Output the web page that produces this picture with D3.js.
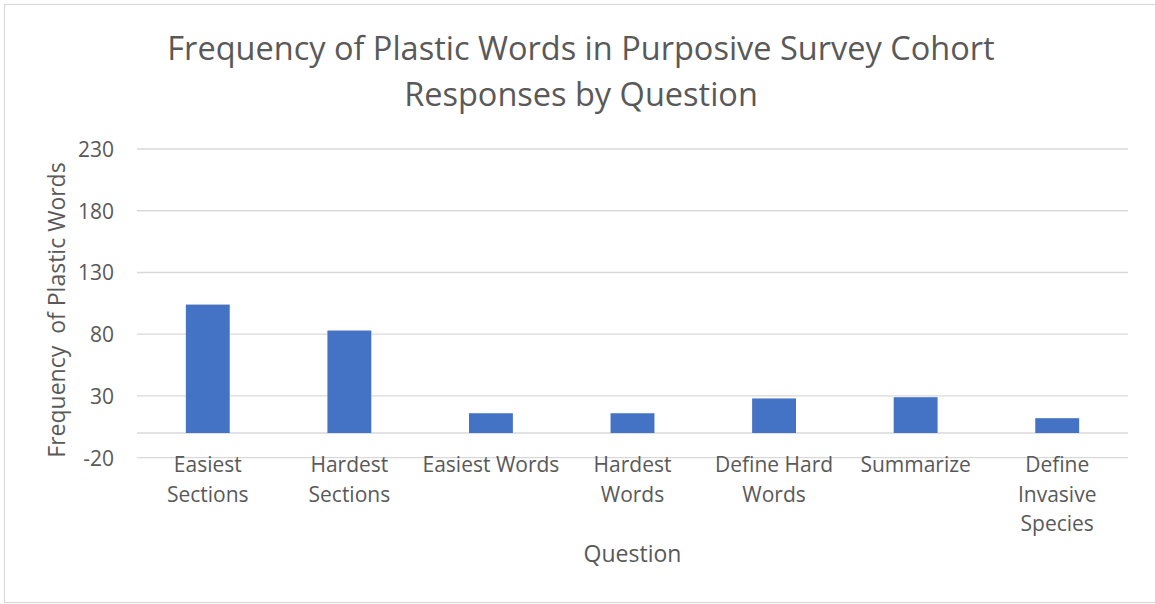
<!DOCTYPE html>
<html>
<head>
<meta charset="utf-8">
<script src="https://cdn.jsdelivr.net/npm/d3@7/dist/d3.min.js"></script>
<style>
  html, body { margin: 0; padding: 0; background: #fff; }
  svg { display: block; }
  text { font-family: "Open Sans", "Noto Sans", sans-serif; fill: #595959; }
</style>
</head>
<body>
<svg id="chart" width="1155" height="604"></svg>
<script>
// Questions asked of the cohort and the wrapped form of each label
const categories = ["Easiest Sections", "Hardest Sections", "Easiest Words", "Hardest Words",
                    "Define Hard Words", "Summarize", "Define Invasive Species"];
const categoryLines = [["Easiest", "Sections"], ["Hardest", "Sections"], ["Easiest Words"],
                       ["Hardest", "Words"], ["Define Hard", "Words"], ["Summarize"],
                       ["Define", "Invasive", "Species"]];
// Count of plastic words per question
const frequencies = [104, 83, 16, 16, 28, 29, 12];
// Value axis ticks
const yTicks = [-20, 30, 80, 130, 180, 230];

const titleLines = ["Frequency of Plastic Words in Purposive Survey Cohort", "Responses by Question"];
const yTitle = "Frequency\u00a0 of Plastic Words";
const xTitle = "Question";

const svg = d3.select("#chart");

// outer chart frame
svg.append("rect")
  .attr("x", 4.5).attr("y", 4.5)
  .attr("width", 1160).attr("height", 598)
  .attr("fill", "#fff").attr("stroke", "#d9d9d9").attr("stroke-width", 1.2);

const plot = { left: 137, right: 1128, top: 149, bottom: 457.7 };

const x = d3.scaleBand().domain(categories).range([plot.left, plot.right]).padding(0);
const y = d3.scaleLinear().domain([yTicks[0], yTicks[yTicks.length - 1]]).range([plot.bottom, plot.top]);

// horizontal gridlines
svg.append("g").selectAll("line").data(yTicks).join("line")
  .attr("x1", plot.left).attr("x2", plot.right)
  .attr("y1", d => y(d)).attr("y2", d => y(d))
  .attr("stroke", "#d9d9d9").attr("stroke-width", 1.3);

// category axis line at zero
svg.append("line")
  .attr("x1", plot.left).attr("x2", plot.right)
  .attr("y1", y(0)).attr("y2", y(0))
  .attr("stroke", "#d9d9d9").attr("stroke-width", 1.3);

// value tick labels
const yAxis = d3.axisLeft(y).tickValues(yTicks).tickFormat(d => String(d)).tickSize(0).tickPadding(0);
const yg = svg.append("g").attr("transform", `translate(${plot.left - 23},0)`).call(yAxis);
yg.select(".domain").remove();
yg.selectAll("text")
  .style("font-family", "'Open Sans', sans-serif")
  .style("font-size", "21px").attr("fill", "#595959").attr("dy", "0.35em");

// bars
const barWidth = x.bandwidth() * 0.31;
svg.append("g").selectAll("rect").data(frequencies).join("rect")
  .attr("x", (d, i) => x(categories[i]) + (x.bandwidth() - barWidth) / 2)
  .attr("width", barWidth)
  .attr("y", d => y(Math.max(0, d)))
  .attr("height", d => Math.abs(y(d) - y(0)))
  .attr("fill", "#4472C4");

// category labels, wrapped
const xl = svg.append("g").selectAll("text").data(categoryLines).join("text")
  .attr("text-anchor", "middle")
  .style("font-size", "21px")
  .attr("transform", (d, i) => `translate(${x(categories[i]) + x.bandwidth() / 2},472)`);
xl.selectAll("tspan").data(d => d).join("tspan")
  .attr("x", 0).attr("y", (d, j) => j * 29.5).text(d => d);

// axis titles
svg.append("text").attr("x", (plot.left + plot.right) / 2).attr("y", 562)
  .attr("text-anchor", "middle").style("font-size", "23px").text(xTitle);

svg.append("text")
  .attr("transform", "translate(65,310) rotate(-90)")
  .attr("text-anchor", "middle").style("font-size", "23px").text(yTitle);

// chart title
svg.append("g").selectAll("text").data(titleLines).join("text")
  .attr("x", 581).attr("y", (d, i) => 60 + i * 45.5)
  .attr("text-anchor", "middle").style("font-size", "32.5px").text(d => d);
</script>
</body>
</html>
